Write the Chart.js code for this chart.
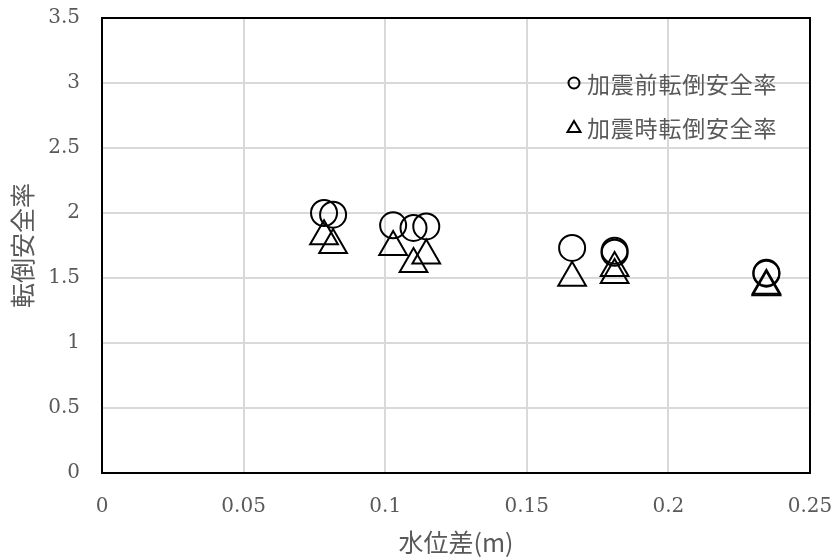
<!DOCTYPE html>
<html>
<head>
<meta charset="utf-8">
<script src="https://cdn.jsdelivr.net/npm/chart.js@4.4.1/dist/chart.umd.min.js"></script>
<style>
  html, body { margin: 0; padding: 0; background: #fff; }
  #wrap { width: 835px; height: 557px; }
</style>
</head>
<body>
<div id="wrap"><canvas id="fsChart" width="835" height="557"></canvas></div>
<script>
// water level difference (m) for each test case
const waterDiff = [0.0784, 0.0816, 0.1028, 0.110, 0.1145, 0.166, 0.181, 0.181, 0.2346, 0.2346];
// safety factor against overturning, before shaking
const fsBefore = [2.00, 1.987, 1.905, 1.885, 1.897, 1.731, 1.694, 1.71, 1.533, 1.54];
// safety factor against overturning, during shaking
const fsDuring = [1.822, 1.753, 1.738, 1.608, 1.674, 1.502, 1.577, 1.523, 1.428, 1.44];

const seriesNames = ['加震前転倒安全率', '加震時転倒安全率'];
const xTickLabels = ['0', '0.05', '0.1', '0.15', '0.2', '0.25'];
const yTickLabels = ['0', '0.5', '1', '1.5', '2', '2.5', '3', '3.5'];

const tickFont = { family: '"DejaVu Serif", serif', size: 20 };
const cjkFont = '"Noto Sans CJK JP", sans-serif';
const textGray = '#595959';

function toPoints(ys) {
    return waterDiff.map((x, i) => ({ x: x, y: ys[i] }));
}

// black frame round the plot area
const frame = {
    id: 'frame',
    afterDraw(chart) {
        const a = chart.chartArea;
        const ctx = chart.ctx;
        ctx.save();
        ctx.strokeStyle = '#000';
        ctx.lineWidth = 2;
        ctx.strokeRect(a.left, a.top, a.right - a.left, a.bottom - a.top);
        ctx.restore();
    }
};

// legend inside the plot, top right
const innerLegend = {
    id: 'innerLegend',
    afterDraw(chart) {
        const a = chart.chartArea;
        const ctx = chart.ctx;
        const mx = a.right - 236;
        const rows = [a.top + 65, a.top + 109];
        ctx.save();
        chart.data.datasets.forEach((ds, i) => {
            const y = rows[i];
            ctx.strokeStyle = '#000';
            ctx.lineWidth = 2;
            ctx.beginPath();
            if (ds.pointStyle === 'circle') {
                ctx.arc(mx, y, 5.5, 0, Math.PI * 2);
            } else {
                ctx.moveTo(mx, y - 6);
                ctx.lineTo(mx + 6.5, y + 5);
                ctx.lineTo(mx - 6.5, y + 5);
                ctx.closePath();
            }
            ctx.stroke();
            ctx.fillStyle = textGray;
            ctx.font = '23px ' + cjkFont;
            ctx.textBaseline = 'middle';
            ctx.textAlign = 'left';
            ctx.letterSpacing = '0.8px';
            ctx.fillText(ds.label, mx + 13, y + 1);
        });
        ctx.restore();
    }
};

new Chart(document.getElementById('fsChart'), {
    type: 'scatter',
    data: {
        datasets: [
            {
                label: seriesNames[0],
                data: toPoints(fsBefore),
                pointStyle: 'circle',
                pointRadius: 13,
                pointHoverRadius: 13,
                borderColor: '#000',
                backgroundColor: 'rgba(0,0,0,0)',
                borderWidth: 2
            },
            {
                label: seriesNames[1],
                data: toPoints(fsDuring),
                pointStyle: 'triangle',
                pointRadius: 16,
                pointHoverRadius: 16,
                borderColor: '#000',
                backgroundColor: 'rgba(0,0,0,0)',
                borderWidth: 2
            }
        ]
    },
    options: {
        responsive: false,
        animation: false,
        layout: { padding: { top: 18, right: 25, bottom: 0, left: 0 } },
        plugins: {
            legend: { display: false },
            tooltip: { enabled: false }
        },
        scales: {
            x: {
                type: 'linear',
                min: 0,
                max: 0.25,
                afterFit: (s) => {
                    s.height = 84;
                    s.paddingLeft = 0;
                    s.paddingRight = 0;
                },
                grid: { color: '#d9d9d9', lineWidth: 2, drawTicks: false },
                border: { display: false },
                ticks: {
                    stepSize: 0.05,
                    padding: 22,
                    color: textGray,
                    font: tickFont,
                    maxRotation: 0,
                    callback: (v, i) => xTickLabels[i]
                },
                title: {
                    display: true,
                    text: '水位差(m)',
                    color: textGray,
                    font: { family: cjkFont, size: 25 },
                    padding: { top: 0, bottom: 0 }
                }
            },
            y: {
                min: 0,
                max: 3.5,
                afterFit: (s) => {
                    s.width = 102;
                    s.paddingTop = 0;
                    s.paddingBottom = 0;
                },
                grid: { color: '#d9d9d9', lineWidth: 2, drawTicks: false },
                border: { display: false },
                ticks: {
                    stepSize: 0.5,
                    padding: 22,
                    color: textGray,
                    font: tickFont,
                    callback: (v, i) => yTickLabels[i]
                },
                title: {
                    display: true,
                    text: '転倒安全率',
                    color: textGray,
                    font: { family: cjkFont, size: 25 },
                    padding: { top: 7, bottom: 0 }
                }
            }
        }
    },
    plugins: [frame, innerLegend]
});
</script>
</body>
</html>
